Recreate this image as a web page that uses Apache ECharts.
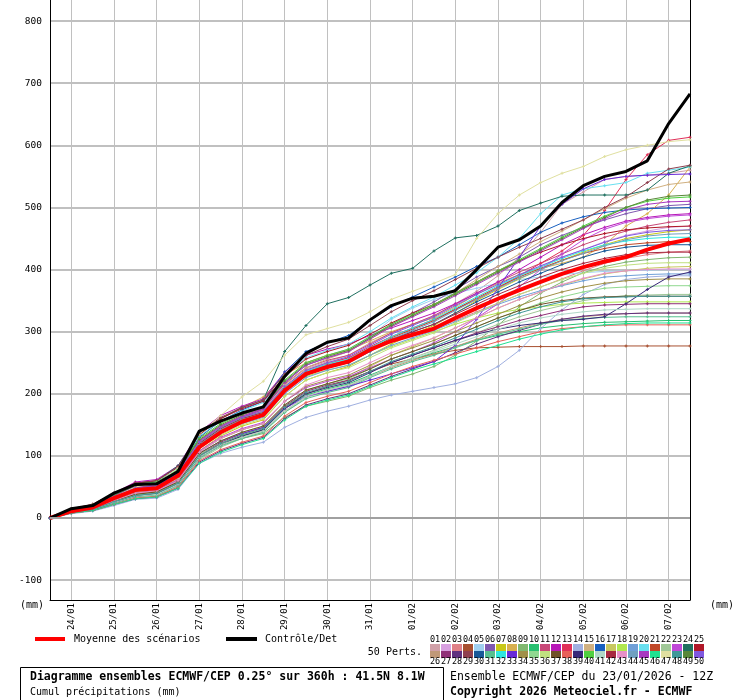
<!DOCTYPE html>
<html>
<head>
<meta charset="utf-8">
<script src="https://cdn.jsdelivr.net/npm/echarts@6/dist/echarts.min.js"></script>
<style>
  html, body { margin: 0; padding: 0; background: #fff; }
  #main { width: 740px; height: 700px; }
</style>
</head>
<body>
<div id="main"></div>
<script>
// echeances (heures depuis le 23/01 12Z), pas de 12h
const hours = [0, 12, 24, 36, 48, 60, 72, 84, 96, 108, 120, 132, 144, 156, 168, 180, 192, 204, 216, 228, 240, 252, 264, 276, 288, 300, 312, 324, 336, 348, 360]
const dayHours = [12, 36, 60, 84, 108, 132, 156, 180, 204, 228, 252, 276, 300, 324, 348]
const dayLabels = ['24/01', '25/01', '26/01', '27/01', '28/01', '29/01', '30/01', '31/01', '01/02', '02/02', '03/02', '04/02', '05/02', '06/02', '07/02']
const yTicks = [-100, 0, 100, 200, 300, 400, 500, 600, 700, 800]

// moyenne et controle
const moyenne = [0, 11, 17, 32, 45, 48, 68, 114, 138, 155, 166, 205, 232, 243, 252, 271, 285, 295, 305, 322, 338, 353, 367, 380, 393, 404, 413, 420, 432, 442, 449]
const controle = [0, 15, 20, 40, 54, 55, 75, 140, 156, 169, 179, 228, 265, 283, 290, 319, 342, 354, 357, 366, 400, 436, 448, 470, 508, 535, 550, 558, 575, 635, 683]

// 50 perturbations
const p01 = [0, 10, 16, 30, 44, 48, 66, 120, 145, 160, 172, 215, 240, 252, 262, 282, 298, 312, 325, 345, 365, 390, 420, 460, 505, 525, 545, 550, 552, 555, 560]
const p02 = [0, 12, 18, 34, 48, 52, 72, 118, 140, 158, 170, 210, 236, 246, 256, 275, 292, 305, 318, 335, 352, 370, 388, 405, 420, 432, 445, 455, 462, 468, 470]
const p03 = [0, 14, 20, 36, 52, 55, 74, 125, 148, 162, 174, 212, 238, 250, 258, 272, 286, 296, 304, 318, 332, 346, 360, 372, 385, 398, 410, 418, 424, 428, 430]
const p04 = [0, 9, 14, 28, 40, 42, 58, 100, 120, 132, 142, 178, 200, 212, 222, 236, 248, 256, 264, 270, 274, 275, 276, 276, 276, 277, 277, 277, 277, 277, 277]
const p05 = [0, 11, 16, 30, 42, 46, 62, 115, 140, 158, 172, 215, 250, 262, 272, 292, 320, 338, 352, 362, 370, 378, 384, 388, 392, 395, 397, 398, 399, 400, 400]
const p06 = [0, 13, 19, 35, 50, 54, 73, 122, 146, 162, 175, 218, 246, 258, 268, 290, 312, 330, 348, 368, 388, 405, 420, 440, 455, 468, 480, 490, 498, 503, 505]
const p07 = [0, 10, 15, 28, 40, 44, 62, 108, 132, 148, 158, 196, 222, 234, 244, 262, 280, 296, 310, 330, 350, 368, 385, 400, 415, 428, 440, 450, 456, 461, 464]
const p08 = [0, 12, 18, 32, 46, 50, 70, 128, 160, 178, 195, 230, 250, 262, 270, 285, 300, 312, 322, 340, 360, 378, 392, 402, 410, 420, 440, 470, 490, 520, 565]
const p09 = [0, 9, 14, 26, 38, 42, 58, 100, 118, 128, 136, 162, 180, 188, 196, 210, 222, 232, 244, 262, 285, 310, 340, 362, 380, 395, 405, 412, 416, 419, 420]
const p10 = [0, 10, 14, 26, 36, 40, 56, 100, 118, 132, 142, 176, 198, 208, 216, 230, 244, 256, 266, 276, 286, 294, 300, 306, 310, 313, 315, 316, 317, 318, 318]
const p11 = [0, 13, 19, 36, 50, 54, 74, 124, 148, 164, 176, 216, 242, 254, 262, 280, 298, 312, 326, 344, 362, 380, 396, 410, 425, 440, 452, 462, 470, 476, 480]
const p12 = [0, 14, 21, 40, 58, 62, 84, 138, 165, 180, 192, 235, 262, 272, 280, 294, 306, 318, 330, 345, 362, 380, 400, 420, 440, 456, 468, 478, 484, 488, 490]
const p13 = [0, 12, 18, 34, 48, 52, 72, 120, 144, 160, 172, 210, 236, 248, 258, 276, 292, 306, 320, 336, 352, 370, 390, 410, 430, 455, 495, 545, 585, 608, 613]
const p14 = [0, 7, 11, 20, 30, 32, 46, 88, 104, 114, 122, 146, 162, 172, 180, 190, 198, 204, 210, 216, 226, 244, 270, 305, 335, 360, 376, 384, 388, 390, 390]
const p15 = [0, 11, 17, 32, 46, 50, 70, 118, 142, 160, 172, 214, 242, 256, 268, 288, 308, 326, 342, 362, 384, 405, 425, 445, 462, 480, 498, 515, 528, 537, 541]
const p16 = [0, 13, 20, 36, 52, 56, 76, 130, 156, 174, 188, 235, 268, 282, 294, 318, 340, 356, 372, 388, 405, 420, 440, 460, 475, 485, 492, 496, 498, 499, 500]
const p17 = [0, 9, 13, 24, 34, 38, 54, 98, 120, 134, 145, 178, 205, 216, 226, 244, 262, 276, 290, 306, 322, 338, 352, 364, 375, 385, 393, 398, 402, 404, 405]
const p18 = [0, 12, 18, 34, 48, 52, 72, 122, 146, 160, 170, 205, 228, 238, 246, 262, 276, 288, 300, 312, 322, 330, 336, 340, 344, 346, 347, 348, 348, 348, 348]
const p19 = [0, 11, 17, 31, 44, 48, 66, 114, 138, 152, 162, 200, 226, 238, 246, 262, 278, 290, 302, 316, 330, 344, 356, 366, 374, 382, 388, 390, 392, 393, 393]
const p20 = [0, 14, 21, 38, 54, 58, 80, 132, 156, 172, 186, 228, 258, 270, 280, 300, 322, 340, 356, 375, 395, 420, 450, 490, 520, 530, 535, 540, 555, 560, 565]
const p21 = [0, 12, 18, 34, 48, 52, 70, 118, 142, 158, 168, 206, 232, 244, 254, 272, 290, 304, 318, 336, 354, 372, 388, 402, 415, 426, 434, 440, 443, 445, 445]
const p22 = [0, 8, 12, 22, 32, 35, 50, 94, 114, 128, 138, 170, 194, 204, 212, 228, 244, 258, 270, 284, 298, 312, 324, 334, 342, 350, 355, 358, 359, 360, 360]
const p23 = [0, 11, 16, 30, 42, 45, 62, 108, 130, 144, 154, 188, 210, 220, 228, 242, 256, 268, 282, 300, 322, 345, 372, 400, 425, 448, 465, 476, 482, 486, 488]
const p24 = [0, 13, 20, 38, 56, 60, 84, 135, 160, 178, 190, 268, 310, 345, 355, 375, 394, 402, 430, 451, 455, 470, 495, 507, 518, 520, 520, 520, 528, 555, 567]
const p25 = [0, 15, 22, 40, 56, 60, 82, 134, 160, 176, 188, 228, 256, 268, 278, 296, 314, 330, 344, 362, 380, 398, 414, 428, 440, 450, 458, 464, 467, 469, 470]
const p26 = [0, 9, 14, 26, 36, 40, 55, 98, 118, 130, 140, 172, 196, 206, 214, 228, 242, 254, 264, 276, 288, 298, 306, 314, 320, 324, 327, 329, 330, 330, 330]
const p27 = [0, 10, 15, 27, 38, 42, 58, 102, 122, 136, 146, 180, 204, 214, 222, 236, 250, 262, 274, 286, 298, 308, 318, 326, 334, 340, 343, 344, 345, 345, 345]
const p28 = [0, 8, 12, 22, 31, 34, 48, 90, 108, 120, 130, 160, 182, 192, 200, 214, 228, 240, 252, 266, 280, 292, 302, 312, 320, 325, 328, 329, 330, 330, 330]
const p29 = [0, 14, 22, 40, 56, 60, 82, 136, 162, 178, 190, 232, 262, 276, 288, 310, 332, 350, 366, 384, 402, 420, 436, 450, 465, 480, 500, 517, 540, 562, 568]
const p30 = [0, 11, 17, 32, 46, 50, 68, 116, 140, 156, 166, 204, 230, 242, 250, 268, 286, 300, 312, 330, 348, 364, 380, 394, 408, 420, 430, 436, 439, 440, 440]
const p31 = [0, 9, 13, 24, 34, 37, 52, 96, 116, 128, 138, 170, 192, 202, 210, 226, 240, 252, 262, 274, 286, 296, 304, 312, 318, 321, 323, 324, 324, 324, 324]
const p32 = [0, 12, 18, 33, 47, 51, 70, 120, 144, 160, 170, 210, 236, 248, 256, 274, 292, 306, 320, 338, 356, 374, 390, 404, 418, 430, 440, 446, 450, 452, 452]
const p33 = [0, 10, 15, 28, 40, 44, 60, 104, 124, 136, 146, 176, 196, 204, 212, 222, 232, 242, 252, 278, 320, 370, 420, 470, 505, 530, 545, 550, 552, 553, 554]
const p34 = [0, 10, 15, 28, 39, 43, 60, 106, 128, 142, 152, 188, 212, 222, 230, 246, 262, 274, 286, 300, 314, 328, 342, 354, 364, 372, 378, 382, 384, 385, 385]
const p35 = [0, 9, 14, 26, 37, 41, 57, 102, 124, 138, 148, 182, 206, 216, 224, 240, 256, 268, 280, 294, 308, 322, 334, 346, 356, 364, 370, 372, 373, 374, 374]
const p36 = [0, 11, 16, 30, 42, 46, 64, 112, 134, 150, 160, 196, 222, 234, 242, 258, 274, 286, 298, 314, 330, 346, 360, 372, 384, 394, 402, 407, 410, 411, 411]
const p37 = [0, 10, 15, 28, 38, 42, 58, 104, 124, 138, 148, 182, 206, 216, 226, 240, 256, 268, 280, 294, 308, 322, 334, 344, 350, 354, 356, 357, 357, 357, 357]
const p38 = [0, 8, 12, 22, 32, 35, 50, 92, 110, 122, 132, 164, 186, 196, 204, 218, 232, 244, 254, 264, 274, 284, 292, 300, 305, 308, 310, 311, 311, 311, 311]
const p39 = [0, 9, 13, 25, 35, 39, 54, 98, 118, 132, 142, 176, 200, 210, 218, 234, 250, 262, 274, 286, 296, 304, 310, 314, 318, 320, 324, 345, 368, 388, 396]
const p40 = [0, 14, 21, 38, 54, 58, 78, 128, 152, 168, 180, 222, 250, 262, 272, 292, 312, 328, 344, 362, 380, 398, 416, 434, 452, 470, 486, 500, 510, 515, 517]
const p41 = [0, 9, 14, 25, 35, 38, 54, 98, 118, 130, 140, 172, 196, 206, 214, 228, 244, 256, 268, 280, 292, 304, 314, 322, 328, 332, 335, 336, 337, 337, 337]
const p42 = [0, 12, 18, 34, 48, 52, 70, 120, 144, 160, 170, 208, 234, 246, 254, 272, 288, 300, 312, 328, 344, 360, 374, 388, 400, 410, 418, 424, 427, 428, 428]
const p43 = [0, 10, 15, 28, 40, 44, 60, 106, 128, 142, 152, 188, 214, 226, 234, 250, 266, 278, 290, 306, 322, 338, 352, 364, 376, 386, 394, 398, 400, 401, 401]
const p44 = [0, 11, 17, 32, 45, 49, 68, 118, 142, 158, 168, 206, 232, 244, 252, 270, 288, 302, 316, 334, 352, 370, 386, 400, 414, 426, 438, 448, 454, 457, 458]
const p45 = [0, 13, 20, 36, 50, 54, 74, 124, 148, 164, 176, 218, 246, 258, 268, 288, 308, 324, 340, 358, 376, 394, 412, 430, 448, 466, 482, 496, 505, 509, 510]
const p46 = [0, 8, 12, 22, 31, 34, 48, 88, 106, 118, 128, 158, 180, 190, 198, 212, 226, 238, 248, 258, 268, 278, 288, 296, 303, 308, 311, 313, 314, 314, 314]
const p47 = [0, 12, 18, 34, 50, 56, 80, 135, 165, 195, 220, 262, 295, 305, 315, 332, 352, 365, 378, 392, 450, 490, 520, 540, 555, 566, 582, 593, 600, 606, 609]
const p48 = [0, 9, 14, 26, 36, 40, 56, 100, 120, 134, 144, 178, 202, 212, 220, 236, 252, 264, 276, 290, 304, 318, 330, 340, 348, 353, 355, 356, 357, 357, 357]
const p49 = [0, 13, 20, 37, 52, 56, 76, 126, 150, 166, 178, 220, 248, 260, 270, 290, 310, 326, 342, 360, 378, 396, 414, 432, 450, 468, 484, 500, 512, 518, 520]
const p50 = [0, 12, 18, 34, 48, 52, 72, 122, 146, 162, 172, 212, 238, 250, 260, 278, 296, 310, 324, 342, 360, 376, 392, 406, 420, 432, 444, 454, 460, 463, 464]

const perts = [p01, p02, p03, p04, p05, p06, p07, p08, p09, p10, p11, p12, p13, p14, p15, p16, p17, p18, p19, p20, p21, p22, p23, p24, p25,
  p26, p27, p28, p29, p30, p31, p32, p33, p34, p35, p36, p37, p38, p39, p40, p41, p42, p43, p44, p45, p46, p47, p48, p49, p50]

const pertColors = ['#d0a0a8', '#d8a0e0', '#e08088', '#a85030', '#a0d0f0', '#8058b0', '#c8c818', '#d8b050', '#80b870', '#28c070',
  '#c84878', '#b818b8', '#e03058', '#a0b0e0', '#d0b080', '#1860c0', '#c8c860', '#b0e850', '#70a0d8', '#68e0f0',
  '#c04828', '#a0c898', '#c048d8', '#207060', '#b01828',
  '#c09878', '#903078', '#603080', '#904050', '#185898', '#58c090', '#30e8e0', '#6828d8', '#a09048', '#90d890',
  '#c0e080', '#705028', '#e86058', '#382878', '#50d040', '#b0d8c8', '#a82840', '#e890c8', '#70a0c0', '#a838c0',
  '#20e090', '#e0e0a0', '#409898', '#588838', '#8058e0']

const mono = '"DejaVu Sans Mono", monospace'
const plus = 'path://M1,0H2V1H3V2H2V3H1V2H0V1H1Z'

function toPoints (arr) {
  return hours.map(function (h, k) { return [h, arr[k]] })
}

let series = []
// ligne du zero, plus foncee
series.push({
  type: 'line',
  data: [],
  z: 1,
  markLine: {
    silent: true,
    symbol: 'none',
    label: { show: false },
    lineStyle: { color: '#a0a0a0', width: 2, type: 'solid' },
    data: [{ yAxis: 0 }]
  }
})
perts.forEach(function (p, i) {
  series.push({
    type: 'line',
    data: toPoints(p),
    symbol: plus,
    symbolSize: 3,
    lineStyle: { width: 1, color: pertColors[i] },
    itemStyle: { color: pertColors[i] },
    z: 2
  })
})
series.push({
  type: 'line',
  data: toPoints(moyenne),
  symbol: 'none',
  lineStyle: { width: 4, color: '#ff0000' },
  z: 3
})
series.push({
  type: 'line',
  data: toPoints(controle),
  symbol: 'none',
  lineStyle: { width: 3, color: '#000000' },
  z: 4
})

// legende et textes du bas
let graphics = [
  { type: 'text', left: 20, top: 600, style: { text: '(mm)', font: '10px ' + mono, fill: '#000' } },
  { type: 'text', left: 710, top: 600, style: { text: '(mm)', font: '10px ' + mono, fill: '#000' } },
  { type: 'rect', shape: { x: 35, y: 637, width: 30, height: 4 }, style: { fill: '#ff0000' } },
  { type: 'text', x: 74, y: 639, style: { text: 'Moyenne des scénarios', font: '10px ' + mono, fill: '#000', textVerticalAlign: 'middle' } },
  { type: 'rect', shape: { x: 226, y: 637, width: 31, height: 4 }, style: { fill: '#000' } },
  { type: 'text', x: 265, y: 639, style: { text: 'Contrôle/Det', font: '10px ' + mono, fill: '#000', textVerticalAlign: 'middle' } },
  { type: 'text', x: 422, y: 652, style: { text: '50 Perts.', font: '10px ' + mono, fill: '#000', textAlign: 'right', textVerticalAlign: 'middle' } },
  { type: 'rect', shape: { x: 20.5, y: 667.5, width: 423, height: 40 }, style: { fill: '#fff', stroke: '#000', lineWidth: 1 } },
  { type: 'text', x: 30, y: 677, style: { text: 'Diagramme ensembles ECMWF/CEP 0.25° sur 360h : 41.5N 8.1W', font: 'bold 11.5px ' + mono, fill: '#000', textVerticalAlign: 'middle' } },
  { type: 'text', x: 30, y: 692, style: { text: 'Cumul précipitations (mm)', font: '10px ' + mono, fill: '#000', textVerticalAlign: 'middle' } },
  { type: 'text', x: 450, y: 677, style: { text: 'Ensemble ECMWF/CEP du 23/01/2026 - 12Z', font: '11.5px ' + mono, fill: '#000', textVerticalAlign: 'middle' } },
  { type: 'text', x: 450, y: 692, style: { text: 'Copyright 2026 Meteociel.fr - ECMWF', font: 'bold 11.5px ' + mono, fill: '#000', textVerticalAlign: 'middle' } }
]
for (let i = 0; i < 25; i++) {
  let x = 430 + i * 11
  let n1 = String(i + 1).padStart(2, '0')
  let n2 = String(i + 26)
  graphics.push({ type: 'rect', shape: { x: x, y: 644, width: 10, height: 7 }, style: { fill: pertColors[i] } })
  graphics.push({ type: 'rect', shape: { x: x, y: 651, width: 10, height: 7 }, style: { fill: pertColors[i + 25] } })
  graphics.push({ type: 'text', x: x + 5, y: 640, style: { text: n1, font: '8.5px ' + mono, fill: '#000', textAlign: 'center', textVerticalAlign: 'middle' } })
  graphics.push({ type: 'text', x: x + 5, y: 662, style: { text: n2, font: '8.5px ' + mono, fill: '#000', textAlign: 'center', textVerticalAlign: 'middle' } })
}

let chart = echarts.init(document.getElementById('main'))
chart.setOption({
  animation: false,
  backgroundColor: '#ffffff',
  grid: { left: 50, right: 50, top: 0, bottom: 100, containLabel: false },
  xAxis: {
    type: 'value',
    min: 0,
    max: 360,
    axisLine: { show: true, onZero: false, lineStyle: { color: '#000', width: 1 } },
    axisTick: { show: false, customValues: dayHours },
    splitLine: { show: true, lineStyle: { color: '#c0c0c0', width: 1 } },
    axisLabel: {
      customValues: dayHours,
      rotate: 90,
      margin: 3,
      color: '#000',
      fontFamily: mono,
      fontSize: 9,
      formatter: function (v) {
        return dayLabels[dayHours.indexOf(v)]
      }
    }
  },
  yAxis: [{
    type: 'value',
    min: -132,
    max: 834,
    axisLine: { show: true, onZero: false, lineStyle: { color: '#000', width: 1 } },
    axisTick: { show: false, customValues: yTicks },
    splitLine: { show: true, lineStyle: { color: '#c0c0c0', width: 2 } },
    axisLabel: { customValues: yTicks, margin: 8, color: '#000', fontFamily: mono, fontSize: 9.5 }
  }, {
    type: 'value',
    position: 'right',
    min: -132,
    max: 834,
    axisLine: { show: true, onZero: false, lineStyle: { color: '#000', width: 1 } },
    axisTick: { show: false },
    axisLabel: { show: false },
    splitLine: { show: false }
  }],
  graphic: graphics,
  series: series
})
</script>
</body>
</html>
